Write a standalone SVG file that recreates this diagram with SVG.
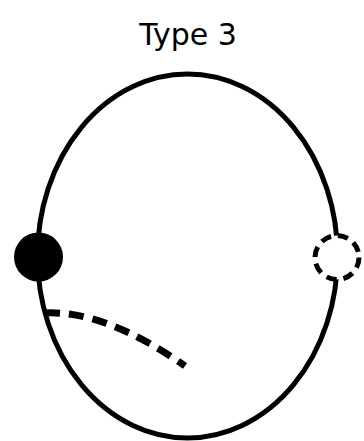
<svg xmlns="http://www.w3.org/2000/svg" width="364" height="441" viewBox="0 0 364 441">
<style>
.title{font-family:"DejaVu Sans",sans-serif;font-size:30px;fill:#000;}
.outline{fill:none;stroke:#000;stroke-width:5;}
.dash{fill:none;stroke:#000;stroke-width:7;stroke-dasharray:15 9;}
</style>
<rect width="364" height="441" fill="#fff"/>
<text class="title" x="188" y="45" text-anchor="middle">Type 3</text>
<g id="outline"><ellipse class="outline" cx="187.5" cy="256" rx="150" ry="182"/></g>
<g id="connectors"><path class="dash" d="M45,313 Q105,310 185,366"/></g>
<g id="filled-node"><circle cx="38.5" cy="257" r="24.5" fill="#000"/></g>
<g id="dashed-node"><circle cx="337" cy="257.5" r="22" fill="#fff" stroke="#000" stroke-width="5" stroke-dasharray="10.5 6.8"/></g>
</svg>
